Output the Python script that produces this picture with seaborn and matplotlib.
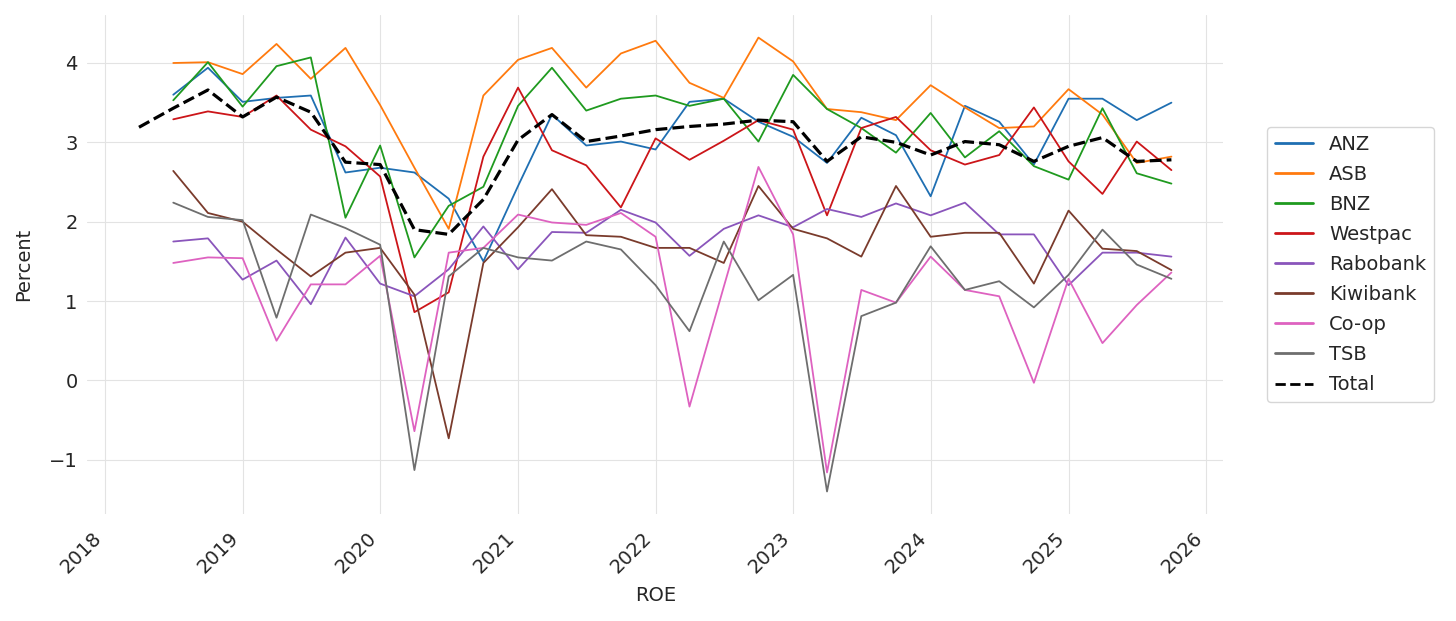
import pandas as pd
import numpy as np
import matplotlib.pyplot as plt
import seaborn as sns

dates_total = pd.date_range('2018-04-01', '2025-10-01', freq='QS')
dates_banks = dates_total[1:]

anz = [3.60, 3.94, 3.51, 3.56, 3.59, 2.62, 2.68, 2.62, 2.29, 1.50, 2.45, 3.35, 2.96, 3.01, 2.91,
       3.51, 3.55, 3.26, 3.07, 2.74, 3.31, 3.09, 2.32, 3.46, 3.26, 2.72, 3.55, 3.55, 3.28, 3.50]
asb = [4.00, 4.01, 3.86, 4.24, 3.80, 4.19, 3.47, 2.68, 1.91, 3.59, 4.04, 4.19, 3.69, 4.12, 4.28,
       3.75, 3.56, 4.32, 4.02, 3.42, 3.38, 3.28, 3.72, 3.44, 3.18, 3.20, 3.67, 3.35, 2.74, 2.82]
bnz = [3.53, 4.01, 3.45, 3.96, 4.07, 2.05, 2.96, 1.55, 2.20, 2.44, 3.46, 3.94, 3.40, 3.55, 3.59,
       3.46, 3.55, 3.01, 3.85, 3.42, 3.18, 2.87, 3.37, 2.81, 3.14, 2.70, 2.53, 3.43, 2.61, 2.48]
westpac = [3.29, 3.39, 3.32, 3.59, 3.16, 2.95, 2.57, 0.86, 1.11, 2.82, 3.69, 2.90, 2.71, 2.18, 3.05,
           2.78, 3.02, 3.28, 3.16, 2.08, 3.18, 3.32, 2.90, 2.72, 2.84, 3.44, 2.76, 2.35, 3.01, 2.65]
rabobank = [1.75, 1.79, 1.27, 1.51, 0.96, 1.80, 1.22, 1.06, 1.40, 1.94, 1.40, 1.87, 1.86, 2.15, 1.99,
            1.57, 1.91, 2.08, 1.93, 2.16, 2.06, 2.23, 2.08, 2.24, 1.84, 1.84, 1.20, 1.61, 1.61, 1.56]
kiwibank = [2.64, 2.11, 2.00, 1.65, 1.31, 1.61, 1.67, 1.08, -0.73, 1.48, 1.93, 2.41, 1.83, 1.81, 1.67,
            1.67, 1.48, 2.45, 1.91, 1.79, 1.56, 2.45, 1.81, 1.86, 1.86, 1.22, 2.14, 1.66, 1.63, 1.39]
coop = [1.48, 1.55, 1.54, 0.50, 1.21, 1.21, 1.57, -0.64, 1.61, 1.67, 2.09, 1.99, 1.96, 2.11, 1.81,
        -0.33, 1.18, 2.69, 1.84, -1.16, 1.14, 0.98, 1.56, 1.14, 1.06, -0.03, 1.28, 0.47, 0.95, 1.36]
tsb = [2.24, 2.06, 2.02, 0.79, 2.09, 1.92, 1.71, -1.13, 1.31, 1.67, 1.55, 1.51, 1.75, 1.65, 1.20,
       0.62, 1.75, 1.01, 1.33, -1.40, 0.81, 0.98, 1.69, 1.14, 1.25, 0.92, 1.33, 1.90, 1.46, 1.28]
total = [3.19, 3.43, 3.66, 3.32, 3.57, 3.38, 2.75, 2.72, 1.90, 1.84, 2.28, 3.03, 3.35, 3.01, 3.08, 3.16,
         3.20, 3.23, 3.28, 3.26, 2.76, 3.07, 3.00, 2.84, 3.01, 2.97, 2.76, 2.95, 3.06, 2.76, 2.78]

banks = ['ANZ', 'ASB', 'BNZ', 'Westpac', 'Rabobank', 'Kiwibank', 'Co-op', 'TSB']
values = [anz, asb, bnz, westpac, rabobank, kiwibank, coop, tsb]
colors = ['#1f6fb2', '#ff7a0e', '#1f9a1f', '#cc1519', '#8a55bb', '#7a3b2c', '#de62c0', '#6e6e6e']

rows = []
for b, v in zip(banks, values):
    for d, y in zip(dates_banks, v):
        rows.append({'date': d, 'bank': b, 'value': y})
df = pd.DataFrame(rows)
df_total = pd.DataFrame({'date': dates_total, 'value': total})

sns.set_style('whitegrid', {'grid.color': '#e3e3e3'})
plt.rcParams['font.family'] = ['DejaVu Sans']

fig = plt.figure(figsize=(14.56, 6.21), dpi=100)
ax = fig.add_axes([0.06, 0.172, 0.78, 0.804])

sns.lineplot(data=df, x='date', y='value', hue='bank', hue_order=banks,
             palette=dict(zip(banks, colors)), linewidth=1.3, ax=ax, legend=False)
sns.lineplot(data=df_total, x='date', y='value', color='black', linestyle='--',
             linewidth=2.3, ax=ax, legend=False)

handles = [plt.Line2D([], [], color=c, lw=2) for c in colors]
handles.append(plt.Line2D([], [], color='black', lw=2, ls='--'))
ax.legend(handles, banks + ['Total'], loc='center left', bbox_to_anchor=(1.03, 0.5),
          fontsize=14, frameon=True, edgecolor='#cccccc', labelspacing=0.57)

ax.set_xticks(pd.date_range('2018-01-01', '2026-01-01', freq='YS'))
ax.set_xticklabels([str(y) for y in range(2018, 2027)], rotation=45, ha='right')
ax.tick_params(labelsize=14)
ax.tick_params(axis='x', pad=7)
ax.set_xlabel('ROE', fontsize=14, labelpad=6)
ax.set_ylabel('Percent', fontsize=14, labelpad=11)
ax.grid(True, linewidth=0.8)
sns.despine(ax=ax, left=True, bottom=True)

fig.savefig('out.png', dpi=100)
